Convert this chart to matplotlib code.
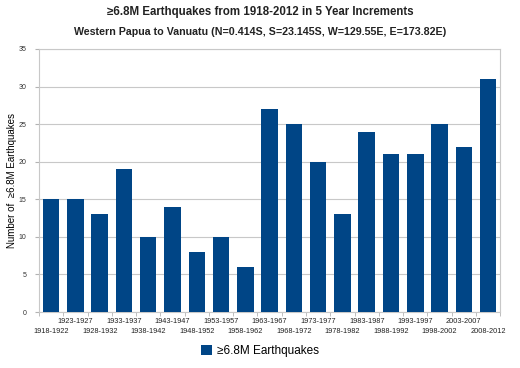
import matplotlib.pyplot as plt
import numpy as np

plt.rcParams['font.family'] = ['Liberation Sans', 'DejaVu Sans']

periods = ["1918-1922", "1923-1927", "1928-1932", "1933-1937", "1938-1942",
           "1943-1947", "1948-1952", "1953-1957", "1958-1962", "1963-1967",
           "1968-1972", "1973-1977", "1978-1982", "1983-1987", "1988-1992",
           "1993-1997", "1998-2002", "2003-2007", "2008-2012"]
counts = [15, 15, 13, 19, 10, 14, 8, 10, 6, 27, 25, 20, 13, 24, 21, 21, 25, 22, 31]

fig = plt.figure(figsize=(5.2, 3.68), dpi=100)
ax = fig.add_axes([0.075, 0.152, 0.887, 0.715])

x = np.arange(len(periods))
ax.bar(x, counts, width=0.68, color="#004586", zorder=3, label="≥6.8M Earthquakes")

ax.set_xlim(-0.5, len(periods) - 0.5)
ax.set_ylim(0, 35)
ax.set_yticks(range(0, 36, 5))
ax.yaxis.grid(True, color="#c8c8c8", linewidth=0.8, zorder=0)
ax.tick_params(axis="y", labelsize=5, length=3, color="#b3b3b3", labelcolor="#333333", pad=6)

ax.set_xticks(x)
ax.set_xticklabels([])
for i, p in enumerate(periods):
    off = -0.035 if i % 2 == 1 else -0.075
    ax.text(i, off, p, transform=ax.get_xaxis_transform(), ha="center", va="center",
            fontsize=5.3, color="#222222")
ax.set_xticks(np.arange(-0.5, len(periods), 1), minor=True)
ax.tick_params(axis="x", which="major", length=0)
ax.tick_params(axis="x", which="minor", length=3, color="#b3b3b3")

for s in ax.spines.values():
    s.set_color("#c8c8c8")

ax.set_ylabel("Number of  ≥6.8M Earthquakes", fontsize=7)
ax.yaxis.set_label_coords(-0.048, 0.5)

fig.text(0.5, 0.967, "≥6.8M Earthquakes from 1918-2012 in 5 Year Increments",
         ha="center", va="center", fontsize=8.3, fontweight="bold", color="#222222")
fig.text(0.5, 0.913, "Western Papua to Vanuatu (N=0.414S, S=23.145S, W=129.55E, E=173.82E)",
         ha="center", va="center", fontsize=7.7, fontweight="bold", color="#222222")

fig.legend(loc="center", bbox_to_anchor=(0.5, 0.045), frameon=False, fontsize=8.5,
           handlelength=0.9, handleheight=0.9, handletextpad=0.4)

fig.savefig("out.png", dpi=100)
